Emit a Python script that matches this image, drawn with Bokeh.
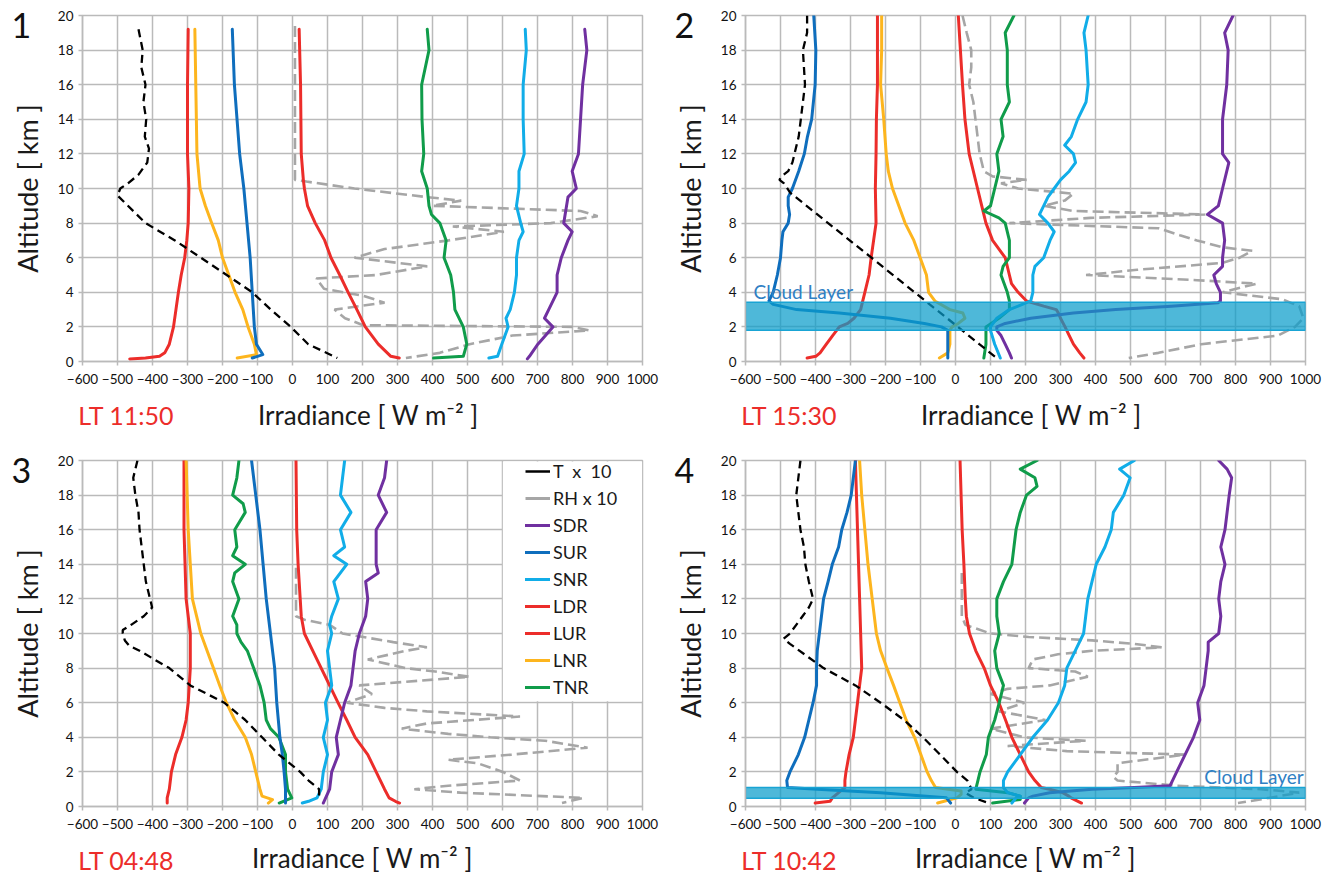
from bokeh.plotting import figure
from bokeh.models import Range1d, FixedTicker, Label, Legend, LegendItem, Title
from bokeh.layouts import column, row
from bokeh.embed import file_html
from bokeh.resources import INLINE

# ---------------- data (altitude in km, irradiance in W m-2; T and RH scaled x10) -------------
X_TICKS = [-600, -500, -400, -300, -200, -100, 0, 100, 200, 300, 400, 500, 600, 700, 800, 900, 1000]
Y_TICKS = [0, 2, 4, 6, 8, 10, 12, 14, 16, 18, 20]
PANEL_NUMBERS = ["1", "2", "3", "4"]
LOCAL_TIMES = ["LT 11:50", "LT 15:30", "LT 04:48", "LT 10:42"]
LEGEND_LABELS = ["T\u00a0 x\u00a0 10", "RH x 10", "SDR", "SUR", "SNR", "LDR", "LUR", "LNR", "TNR"]
X_TITLE = "Irradiance [ W m\u207b\u00b2 ]"

# Panel 1
P1_T_ALT = [19.2, 18, 17, 16, 15, 14, 13, 12.3, 11.5, 10.8, 10.3, 10.0, 9.6, 8, 7, 6, 5, 4, 3, 2, 1, 0.2]
P1_T = [-440, -428, -432, -420, -426, -418, -422, -410, -415, -440, -470, -492, -500, -420, -336, -262, -188, -115, -62, -5, 45, 128]
P1_RH_ALT = [19.4, 10.5, 10.4, 10.0, 9.5, 9.3, 9.0, 8.7, 8.4, 8.0, 7.8, 7.5, 7.0, 6.5, 6.0, 5.5, 5.0, 4.8, 4.2, 3.8, 3.4, 3.0, 2.5, 2.1, 2.0, 1.8, 1.5, 1.0, 0.5, 0.2]
P1_RH = [7, 7, 40, 177, 385, 482, 400, 823, 872, 738, 458, 604, 446, 263, 177, 385, 239, 68, 90, 202, 263, 120, 150, 202, 799, 848, 628, 506, 421, 324]
P1_SDR_ALT = [19.2, 18, 16, 14, 12, 11, 10, 9.5, 8, 7.5, 7, 6, 5, 4, 3, 2.5, 2, 1, 0.3, 0.15]
P1_SDR = [835, 841, 829, 823, 817, 799, 811, 787, 775, 799, 787, 768, 756, 756, 732, 720, 744, 701, 677, 671]
P1_SUR_ALT = [19.2, 16, 12, 10, 8, 6, 4, 2, 1, 0.4, 0.2]
P1_SUR = [-172, -166, -151, -139, -130, -121, -115, -109, -103, -85, -115]
P1_SNR_ALT = [19.2, 18, 16, 14, 12, 11, 10, 9, 8, 7.5, 7, 6, 5, 4, 3, 2.5, 2, 1, 0.3, 0.2]
P1_SNR = [665, 668, 659, 659, 662, 647, 647, 640, 652, 659, 647, 640, 640, 634, 622, 610, 616, 598, 586, 561]
P1_LDR_ALT = [19.2, 16, 12, 10.5, 10, 9, 8, 7, 6, 5, 4, 3, 2, 1, 0.3, 0.2]
P1_LDR = [19, 23, 25, 31, 34, 43, 65, 92, 110, 135, 159, 184, 208, 245, 281, 305]
P1_LUR_ALT = [19.2, 16, 12, 10, 8, 7, 6, 5, 4, 3, 2, 1, 0.5, 0.3, 0.2, 0.15]
P1_LUR = [-298, -300, -300, -296, -298, -302, -308, -318, -326, -333, -340, -352, -365, -380, -420, -465]
P1_LNR_ALT = [19.2, 12, 10, 9, 8, 7, 6, 5, 4, 3, 2, 1, 0.4, 0.2]
P1_LNR = [-279, -273, -264, -249, -231, -212, -200, -182, -164, -142, -127, -109, -103, -158]
P1_TNR_ALT = [19.2, 18, 16, 14, 12, 11, 10, 9, 8.5, 8, 7, 6, 5, 4, 3, 2, 1, 0.3, 0.2]
P1_TNR = [385, 390, 369, 370, 375, 369, 385, 390, 397, 421, 439, 433, 452, 460, 464, 488, 498, 488, 403]

# Panel 2
P2_T_ALT = [20, 19, 18, 16, 14, 13, 12, 11.5, 11, 10.7, 10.5, 10.3, 9.75, 8, 6, 4, 2, 1, 0.2]
P2_T = [-424, -424, -436, -430, -442, -448, -460, -466, -478, -497, -503, -490, -472, -364, -240, -117, 7, 68, 118]
P2_RH_ALT = [20, 19, 18, 17, 16, 15, 14, 13, 12, 11.5, 11, 10.7, 10.5, 10.3, 10.0, 9.7, 9.3, 9.0, 8.7, 8.5, 8.3, 8.0, 7.7, 7.3, 7.0, 6.6, 6.4, 6.0, 5.7, 5.3, 5.0, 4.7, 4.5, 4.0, 3.6, 3.2, 2.5, 2.0, 1.5, 1.0, 0.5, 0.2]
P2_RH = [20, 32, 45, 45, 39, 51, 57, 63, 69, 75, 81, 106, 203, 130, 179, 337, 312, 252, 337, 714, 385, 154, 580, 641, 690, 763, 848, 812, 763, 519, 373, 690, 860, 763, 933, 982, 994, 970, 921, 702, 580, 495]
P2_SDR_ALT = [20, 19, 18, 16, 14, 12, 11.5, 10, 9, 8.5, 8, 7, 6, 5.5, 5, 4.5, 4, 3.5, 3.4, 3.2, 3.0, 2.8, 2.5, 2.2, 2.0, 1.8, 1.5, 1.0, 0.5, 0.2]
P2_SDR = [793, 769, 779, 775, 763, 763, 781, 763, 751, 720, 763, 769, 763, 763, 738, 745, 757, 757, 750, 617, 458, 337, 215, 142, 118, 118, 130, 142, 154, 160]
P2_SUR_ALT = [20, 18, 16, 14, 13, 12, 11, 10, 9.5, 9, 8.5, 8, 7.5, 7, 6, 5, 4, 3.5, 3.3, 3.0, 2.8, 2.5, 2.2, 2.0, 1.8, 0.2]
P2_SUR = [-405, -399, -401, -411, -423, -432, -448, -466, -478, -478, -474, -478, -493, -496, -500, -509, -521, -533, -521, -454, -332, -186, -89, -40, -22, -22]
P2_SNR_ALT = [20, 19, 18, 16, 15, 14, 13, 12.5, 12, 11.5, 11, 10.5, 10, 9.5, 9, 8.5, 8, 7.5, 7, 6, 5.5, 5, 4, 3.5, 3.2, 3.0, 2.5, 2.0, 1.8, 1.0, 0.2]
P2_SNR = [379, 367, 373, 379, 373, 349, 331, 312, 337, 343, 325, 300, 282, 264, 252, 240, 264, 282, 270, 252, 227, 221, 221, 215, 179, 154, 118, 100, 100, 112, 128]
P2_LDR_ALT = [20, 18, 16, 14, 12, 10, 9, 8, 7, 6, 5, 4.5, 4, 3.5, 3.2, 3.0, 2.8, 2.5, 2.0, 1.5, 1.0, 0.5, 0.2]
P2_LDR = [8, 14, 20, 27, 39, 63, 75, 87, 106, 142, 154, 160, 179, 203, 252, 288, 294, 300, 313, 325, 337, 355, 367]
P2_LUR_ALT = [20, 18, 16, 14, 12, 10, 8, 6, 5, 4, 3.5, 3, 2.5, 2.2, 2.0, 1.5, 1.0, 0.5, 0.3, 0.2]
P2_LUR = [-223, -223, -223, -226, -227, -229, -227, -241, -247, -259, -265, -271, -290, -308, -332, -351, -369, -387, -399, -424]
P2_LNR_ALT = [20, 18, 16, 14, 12, 11, 10, 9, 8, 7, 6, 5, 4, 3.5, 3.0, 2.8, 2.5, 2.2, 2.0, 1.8, 1.0, 0.5, 0.2]
P2_LNR = [-211, -211, -214, -205, -198, -192, -180, -162, -144, -119, -101, -83, -77, -59, -16, 21, 27, 8, -10, -16, -16, -22, -46]
P2_TNR_ALT = [20, 19, 18, 16, 15, 14, 13, 12, 11, 10, 9, 8.7, 8.3, 8, 7, 6, 5.5, 5, 4, 3.5, 3, 2.5, 2.0, 1.5, 1.0, 0.2]
P2_TNR = [167, 142, 148, 148, 154, 130, 136, 118, 124, 112, 100, 81, 124, 142, 154, 154, 136, 130, 148, 154, 154, 124, 87, 87, 87, 81]
P2_CLOUD = [1.8, 3.42]

# Panel 3
P3_T_ALT = [20, 19, 18, 17, 16, 15, 14, 13, 12.5, 12, 11.5, 11, 10.5, 10.2, 10, 9.6, 9.3, 9, 8, 7, 6, 5, 4, 3, 2, 1.5, 1, 0.5]
P3_T = [-443, -455, -449, -440, -437, -431, -425, -419, -413, -407, -401, -425, -461, -485, -485, -479, -467, -437, -352, -292, -195, -135, -87, -39, 22, 46, 76, 76]
P3_RH_ALT = [13.8, 11, 10.8, 10.5, 10, 9.5, 9.2, 9, 8.5, 8, 7.8, 7.5, 7, 6.5, 6, 5.7, 5.5, 5.2, 4.8, 4.5, 4.2, 4, 3.8, 3.4, 3, 2.7, 2.5, 2, 1.5, 1.2, 1.0, 0.8, 0.5, 0.2]
P3_RH = [10, 10, 34, 106, 143, 288, 384, 324, 215, 324, 408, 505, 191, 227, 155, 263, 384, 650, 384, 312, 445, 565, 722, 843, 626, 445, 529, 601, 650, 445, 348, 480, 831, 770]
P3_SDR_ALT = [20, 19, 18, 17, 16, 15, 14, 13.5, 13, 12, 11, 10, 9, 8, 7, 6, 5, 4, 3, 2, 1, 0.2]
P3_SDR = [269, 263, 245, 269, 239, 239, 239, 245, 209, 215, 209, 191, 179, 173, 167, 149, 137, 125, 131, 112, 106, 88]
P3_SUR_ALT = [20, 18, 16, 14, 12, 10, 8, 6, 4, 3, 2, 1, 0.2]
P3_SUR = [-117, -105, -93, -84, -75, -63, -51, -45, -36, -29, -24, -20, -20]
P3_SNR_ALT = [20, 19, 18, 17, 16, 15, 14.5, 14, 13, 12, 11, 10.5, 10, 9, 8, 7, 6, 5, 4, 3, 2, 1, 0.5, 0.3, 0.2]
P3_SNR = [149, 143, 137, 167, 137, 149, 118, 155, 118, 131, 112, 106, 112, 100, 106, 112, 94, 100, 88, 100, 88, 82, 70, 46, 28]
P3_LDR_ALT = [20, 16, 14, 12, 11, 10, 9, 8, 7, 6, 5, 4, 3, 2, 1, 0.5, 0.3, 0.2]
P3_LDR = [10, 12, 16, 22, 25, 34, 58, 82, 106, 130, 155, 179, 215, 239, 263, 276, 294, 306]
P3_LUR_ALT = [20, 16, 12, 10, 8, 6, 5, 4, 3, 2, 1, 0.5, 0.2]
P3_LUR = [-310, -310, -304, -292, -292, -298, -304, -316, -334, -346, -352, -358, -358]
P3_LNR_ALT = [20, 16, 14, 12, 11, 10, 9, 8, 7, 6, 5, 4, 3, 2, 1, 0.6, 0.4, 0.2]
P3_LNR = [-304, -298, -292, -286, -274, -262, -244, -226, -208, -189, -165, -135, -117, -105, -93, -87, -57, -69]
P3_TNR_ALT = [20, 19, 18, 17.5, 17, 16, 15, 14.5, 14, 13.5, 13, 12, 11, 10.5, 10, 9.5, 9, 8, 7, 6, 5, 4.5, 4, 3, 2, 1, 0.5, 0.3, 0.2]
P3_TNR = [-153, -159, -171, -141, -135, -165, -159, -171, -135, -165, -171, -153, -171, -159, -159, -147, -129, -111, -93, -81, -75, -63, -39, -20, -20, -14, -2, -26, -38]

# Panel 4
P4_T_ALT = [20, 19, 18, 17, 16, 15, 14, 13, 12.5, 12, 11.5, 11, 10.5, 10, 9.7, 9.4, 8, 7, 6, 5, 4, 3, 2, 1.5, 1.0, 0.8, 0.5, 0.2]
P4_T = [-443, -449, -455, -449, -443, -433, -429, -419, -413, -407, -419, -437, -455, -473, -491, -473, -377, -286, -214, -147, -93, -44, 4, 34, 46, 28, 52, 94]
P4_RH_ALT = [13.5, 11, 10.5, 10, 9.8, 9.6, 9.4, 9.2, 9.0, 8.8, 8.5, 8, 7.8, 7.5, 7, 6.8, 6.5, 6, 5.5, 5, 4.5, 4, 3.8, 3.5, 3.2, 3, 2.5, 2, 1.7, 1.5, 1.2, 1.0, 0.8, 0.5, 0.2]
P4_RH = [18, 18, 28, 100, 209, 390, 511, 589, 390, 293, 221, 209, 342, 378, 269, 149, 100, 197, 124, 257, 100, 197, 372, 149, 318, 656, 463, 463, 451, 463, 632, 873, 982, 897, 807]
P4_SDR_ALT = [20, 19.5, 19, 18, 17, 16, 15, 14, 13, 12, 11, 10, 9.5, 9, 8, 7, 6, 5, 4, 3, 2, 1.5, 1.2, 1.1, 1.0, 0.8, 0.6, 0.5, 0.2]
P4_SDR = [752, 776, 789, 782, 776, 770, 758, 770, 758, 752, 758, 752, 722, 722, 716, 710, 692, 698, 680, 656, 632, 620, 613, 511, 390, 269, 221, 209, 197]
P4_SUR_ALT = [20, 18, 17, 16, 15, 14, 13, 12, 11, 10, 9, 8, 7, 6, 5, 4, 3, 2, 1.5, 1.1, 1.0, 0.8, 0.6, 0.5, 0.2]
P4_SUR = [-286, -298, -310, -325, -334, -352, -364, -377, -383, -389, -395, -397, -397, -407, -419, -431, -449, -473, -482, -480, -395, -214, -93, -26, -14]
P4_SNR_ALT = [20, 19.5, 19, 18, 17, 16, 15, 14, 13, 12, 11, 10, 9, 8, 7, 6, 5, 4, 3, 2, 1.5, 1.1, 0.8, 0.6, 0.5, 0.2]
P4_SNR = [511, 469, 499, 481, 451, 445, 427, 402, 390, 378, 372, 366, 342, 318, 312, 294, 263, 221, 185, 149, 137, 137, 149, 185, 173, 161]
P4_LDR_ALT = [20, 18, 16, 14, 12, 11, 10, 9, 8, 7, 6, 5, 4, 3, 2, 1.5, 1.1, 1.0, 0.8, 0.6, 0.5, 0.2]
P4_LDR = [13, 16, 19, 24, 28, 31, 40, 58, 82, 100, 124, 143, 161, 185, 209, 227, 245, 269, 306, 324, 330, 360]
P4_LUR_ALT = [20, 18, 16, 14, 12, 10, 8, 7, 6, 5, 4, 3, 2, 1.5, 1.1, 1.0, 0.8, 0.5, 0.3, 0.2]
P4_LUR = [-286, -283, -280, -277, -274, -271, -268, -274, -280, -286, -292, -304, -313, -316, -316, -322, -334, -352, -358, -401]
P4_LNR_ALT = [20, 18, 16, 14, 12, 10, 9, 8, 7, 6, 5, 4, 3, 2, 1.5, 1.1, 0.9, 0.7, 0.5, 0.2]
P4_LNR = [-274, -268, -259, -250, -238, -226, -214, -196, -177, -159, -141, -117, -99, -81, -69, -57, 16, 16, 4, -51]
P4_TNR_ALT = [20, 19.5, 19, 18.5, 18, 17, 16, 15, 14, 13, 12, 11, 10, 9, 8, 7, 6, 5, 4, 3, 2, 1.5, 1.0, 0.8, 0.6, 0.4, 0.2]
P4_TNR = [233, 185, 227, 233, 203, 185, 173, 167, 161, 137, 118, 118, 125, 112, 118, 137, 125, 112, 94, 88, 70, 64, 58, 149, 185, 185, 106]
P4_CLOUD = [0.48, 1.1]

# ---------------- styling ----------------
FONT = "Lato"
GRID = "#BABABA"
COLORS = {"SDR": "#7030A0", "SUR": "#0F6EBD", "SNR": "#11ADE8", "LDR": "#EC2D2A",
          "LUR": "#EC2D2A", "LNR": "#FDB51E", "TNR": "#109C4A"}
RED_TEXT = "#EC2D2A"
CLOUD_FILL = "#0A9CCB"
CLOUD_TEXT = "#2F80C4"


def side_label(p, side, x, y, text, size, color, align="left"):
    # labels living in a side panel are drawn on the whole canvas (not clipped to the frame)
    p.add_layout(Label(x=x, y=y, text=text, text_font=FONT, text_font_size=size,
                       text_color=color, text_align=align, text_baseline="middle"), side)


def make_panel(idx, series, left, top, bottom, right, title_row,
               cloud=None, cloud_text=None, legend=False):
    p = figure(frame_width=560, frame_height=346, title=None,
               x_range=Range1d(-600, 1000), y_range=Range1d(0, 20),
               output_backend="svg", toolbar_location=None,
               min_border_left=left, min_border_right=right,
               min_border_top=top, min_border_bottom=bottom)
    p.background_fill_color = "white"
    p.border_fill_color = "white"
    p.outline_line_color = GRID
    p.outline_line_width = 1.5

    p.xaxis.ticker = FixedTicker(ticks=X_TICKS)
    p.yaxis.ticker = FixedTicker(ticks=Y_TICKS)
    for ax in (p.xaxis[0], p.yaxis[0]):
        ax.axis_line_color = GRID
        ax.axis_line_width = 1.5
        ax.major_tick_line_color = GRID
        ax.major_tick_line_width = 1.5
        ax.major_tick_in = 0
        ax.major_tick_out = 4
        ax.minor_tick_line_color = None
        ax.major_label_text_font = FONT
        ax.major_label_text_font_size = "13.5px"
        ax.major_label_text_color = "#111111"
    p.xaxis.major_label_standoff = 8
    p.yaxis.major_label_standoff = 5
    p.yaxis.axis_label = "Altitude [ km ]"
    p.yaxis.axis_label_text_font = FONT
    p.yaxis.axis_label_text_font_size = "27px"
    p.yaxis.axis_label_text_font_style = "normal"
    p.yaxis.axis_label_text_color = "#1A1A1A"
    p.yaxis.axis_label_standoff = 11
    for g in (p.xgrid[0], p.ygrid[0]):
        g.grid_line_color = GRID
        g.grid_line_width = 1.5

    if legend:
        p.quad(left=[601], right=[999], bottom=[6.08], top=[19.94],
               fill_color="white", line_color=None)

    rend = {}
    alt, vals = series["RH"]
    rend["RH"] = p.line(vals, alt, line_color="#A6A6A6", line_width=2.6, line_dash="11 5")
    for key in ["LDR", "LUR", "LNR", "TNR", "SNR", "SUR", "SDR"]:
        alt, vals = series[key]
        rend[key] = p.line(vals, alt, line_color=COLORS[key], line_width=3,
                           line_join="round", line_cap="round")
    alt, vals = series["T"]
    rend["T"] = p.line(vals, alt, line_color="black", line_width=2.3, line_dash="8 5")

    if cloud is not None:
        p.quad(left=[-600], right=[1000], bottom=[cloud[0]], top=[cloud[1]],
               fill_color=CLOUD_FILL, fill_alpha=0.72, line_color="#19A4D4", line_width=1.5)
        cx, cy, align = cloud_text
        p.add_layout(Label(x=cx, y=cy, text="Cloud Layer", text_font=FONT,
                           text_font_size="19px", text_color=CLOUD_TEXT,
                           text_align=align, text_baseline="alphabetic"))

    if legend:
        # single-point lines: nothing visible on the plot, solid swatches in the legend
        t_alt, t_val = series["T"]
        rh_alt, rh_val = series["RH"]
        swatch_t = p.line(t_val[:1], t_alt[:1], line_color="black", line_width=2.5)
        swatch_rh = p.line(rh_val[:1], rh_alt[:1], line_color="#A6A6A6", line_width=3)
        rends = [swatch_t, swatch_rh] + [rend[k] for k in ["SDR", "SUR", "SNR", "LDR", "LUR", "LNR", "TNR"]]
        items = [LegendItem(label=lab, renderers=[r]) for lab, r in zip(LEGEND_LABELS, rends)]
        leg = Legend(items=items, location=(443, 108), padding=0, margin=0, spacing=5,
                     glyph_width=25, glyph_height=22, label_height=22, label_standoff=3,
                     label_text_font=FONT, label_text_font_size="18px",
                     label_text_color="#1A1A1A",
                     background_fill_alpha=0, border_line_alpha=0)
        p.add_layout(leg)

    # panel number, local time and x-axis title
    side_label(p, "right", -803, 19.4, PANEL_NUMBERS[idx], "34px", "#111111")
    side_label(p, "below", -612, -3.1, LOCAL_TIMES[idx], "25px", RED_TEXT)
    if title_row == "top":
        side_label(p, "below", 217, -3.1, X_TITLE, "26px", "#1A1A1A", "center")
    else:
        # compact band (negative standoff) so the bottom row fits in the window
        p.add_layout(Title(text=X_TITLE, align="center", vertical_align="top", standoff=-40,
                           text_font=FONT, text_font_size="26px", text_font_style="normal",
                           text_color="#1A1A1A"), "below")
    return p


S1 = {"T": (P1_T_ALT, P1_T), "RH": (P1_RH_ALT, P1_RH), "SDR": (P1_SDR_ALT, P1_SDR),
      "SUR": (P1_SUR_ALT, P1_SUR), "SNR": (P1_SNR_ALT, P1_SNR), "LDR": (P1_LDR_ALT, P1_LDR),
      "LUR": (P1_LUR_ALT, P1_LUR), "LNR": (P1_LNR_ALT, P1_LNR), "TNR": (P1_TNR_ALT, P1_TNR)}
S2 = {"T": (P2_T_ALT, P2_T), "RH": (P2_RH_ALT, P2_RH), "SDR": (P2_SDR_ALT, P2_SDR),
      "SUR": (P2_SUR_ALT, P2_SUR), "SNR": (P2_SNR_ALT, P2_SNR), "LDR": (P2_LDR_ALT, P2_LDR),
      "LUR": (P2_LUR_ALT, P2_LUR), "LNR": (P2_LNR_ALT, P2_LNR), "TNR": (P2_TNR_ALT, P2_TNR)}
S3 = {"T": (P3_T_ALT, P3_T), "RH": (P3_RH_ALT, P3_RH), "SDR": (P3_SDR_ALT, P3_SDR),
      "SUR": (P3_SUR_ALT, P3_SUR), "SNR": (P3_SNR_ALT, P3_SNR), "LDR": (P3_LDR_ALT, P3_LDR),
      "LUR": (P3_LUR_ALT, P3_LUR), "LNR": (P3_LNR_ALT, P3_LNR), "TNR": (P3_TNR_ALT, P3_TNR)}
S4 = {"T": (P4_T_ALT, P4_T), "RH": (P4_RH_ALT, P4_RH), "SDR": (P4_SDR_ALT, P4_SDR),
      "SUR": (P4_SUR_ALT, P4_SUR), "SNR": (P4_SNR_ALT, P4_SNR), "LDR": (P4_LDR_ALT, P4_LDR),
      "LUR": (P4_LUR_ALT, P4_LUR), "LNR": (P4_LNR_ALT, P4_LNR), "TNR": (P4_TNR_ALT, P4_TNR)}

p1 = make_panel(0, S1, 82, 15, 76, 28, "top")
p2 = make_panel(1, S2, 74, 15, 76, 24, "top",
                cloud=P2_CLOUD, cloud_text=(-577, 4.05, "left"))
p3 = make_panel(2, S3, 82, 12, 69, 28, "bottom", legend=True)
p4 = make_panel(3, S4, 74, 12, 69, 24, "bottom",
                cloud=P4_CLOUD, cloud_text=(995, 1.75, "right"))

layout = column(row(p1, p2), row(p3, p4))
open("out.html", "w").write(file_html(layout, INLINE))
